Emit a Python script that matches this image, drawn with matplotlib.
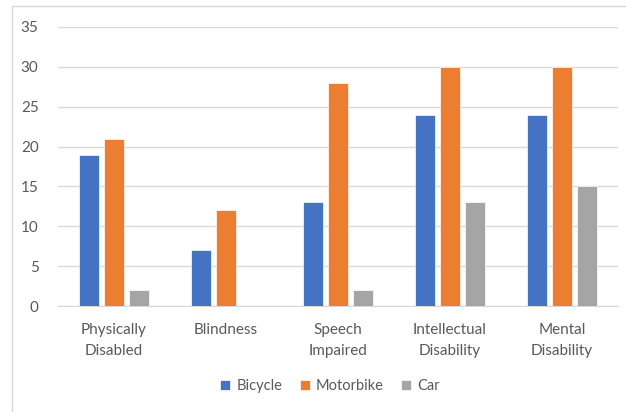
import matplotlib
matplotlib.use("Agg")
import matplotlib.pyplot as plt
from matplotlib.lines import Line2D
import numpy as np

categories = ["Physically\nDisabled", "Blindness", "Speech\nImpaired", "Intellectual\nDisability", "Mental\nDisability"]
bicycle = [19, 7, 13, 24, 24]
motorbike = [21, 12, 28, 30, 30]
car = [2, 0, 2, 13, 15]
series_names = ["Bicycle", "Motorbike", "Car"]
colors = ["#4472C4", "#ED7D31", "#A5A5A5"]

plt.rcParams['font.family'] = ['Lato', 'DejaVu Sans']
W, H = 626, 412
fig = plt.figure(figsize=(W/100, H/100), dpi=100)
ax = fig.add_axes([58/W, 1-306/H, 560/W, (306-27)/H])

x = np.arange(len(categories))
bw = 0.175
off = 0.223
for i, (vals, name, c) in enumerate(zip([bicycle, motorbike, car], series_names, colors)):
    ax.bar(x + (i-1)*off, vals, width=bw, color=c, label=name, edgecolor='white', linewidth=0.5, zorder=3)

ax.set_xlim(-0.5, len(categories)-0.5)
ax.set_ylim(0, 35)
ax.set_yticks(range(0, 36, 5))
ax.yaxis.grid(True, color='#d9d9d9', linewidth=1, zorder=0)
for s in ['top', 'right', 'left']:
    ax.spines[s].set_visible(False)
ax.spines['bottom'].set_color('#d9d9d9')
ax.tick_params(axis='both', length=0, colors='#595959', labelsize=11)
ax.tick_params(axis='y', pad=14)
ax.tick_params(axis='x', pad=12)
ax.set_xticks(x)
ax.set_xticklabels(categories, linespacing=1.65)

leg = fig.legend(loc='center', bbox_to_anchor=(330/W, 1-386/H), ncol=3, frameon=False,
                 fontsize=10.5, handlelength=0.7, handleheight=0.7, handletextpad=0.4, columnspacing=1.2)
for t in leg.get_texts():
    t.set_color('#595959')

fig.add_artist(Line2D([12/W, 12/W], [0, 1-6/H], color='#d9d9d9', linewidth=1, transform=fig.transFigure))
fig.add_artist(Line2D([12/W, 1], [1-6/H, 1-6/H], color='#d9d9d9', linewidth=1, transform=fig.transFigure))

fig.savefig("out.png", dpi=100)
